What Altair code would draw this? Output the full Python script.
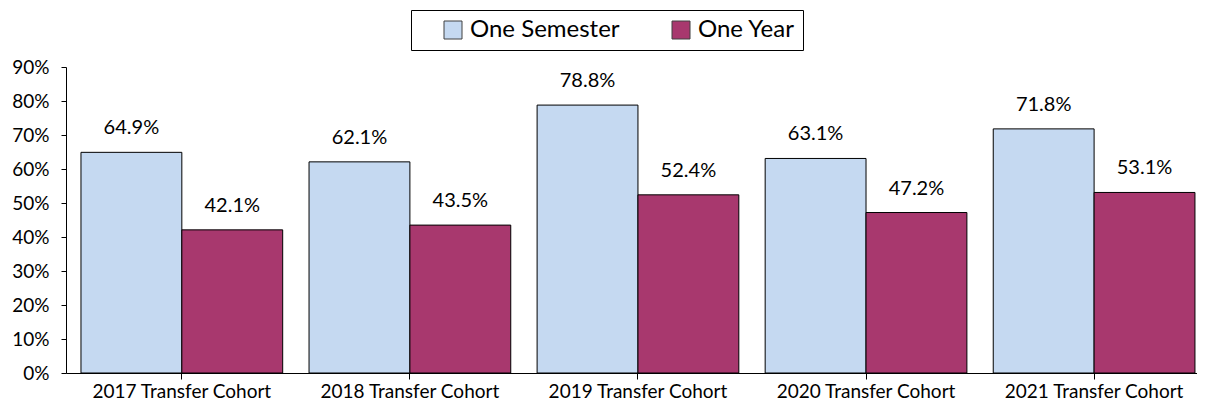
import altair as alt
import pandas as pd

cohorts = ["2017 Transfer Cohort", "2018 Transfer Cohort", "2019 Transfer Cohort",
           "2020 Transfer Cohort", "2021 Transfer Cohort"]
series = ["One Semester", "One Year"]
one_semester = [64.9, 62.1, 78.8, 63.1, 71.8]
one_year = [42.1, 43.5, 52.4, 47.2, 53.1]
y_ticks = [0, 10, 20, 30, 40, 50, 60, 70, 80, 90]
colors = ["#C5D9F1", "#A8386E"]

rows = []
for c, s, y in zip(cohorts, one_semester, one_year):
    rows.append({"cohort": c, "series": series[0], "value": s})
    rows.append({"cohort": c, "series": series[1], "value": y})
df = pd.DataFrame(rows)

FONT = "Lato"

x_enc = alt.X("cohort:N", sort=cohorts, title=None,
              scale=alt.Scale(paddingInner=0.1155, paddingOuter=0.0373, align=0.88),
              axis=alt.Axis(labelAngle=0, labelFontSize=19, labelColor="black",
                            domainColor="black", tickColor="black", tickSize=6,
                            labelPadding=3, labelFont=FONT))
xo_enc = alt.XOffset("series:N", sort=series, scale=alt.Scale(paddingInner=0, paddingOuter=0))
y_enc = alt.Y("value:Q", title=None,
              scale=alt.Scale(domain=[0, 90], nice=False),
              axis=alt.Axis(values=y_ticks, labelExpr="datum.value + '%'", grid=False,
                            labelOverlap=False, labelFontSize=19, labelColor="black",
                            domainColor="black", tickColor="black", tickSize=5,
                            labelPadding=12, labelFont=FONT))

base = alt.Chart(df)

bars = base.mark_bar(stroke="black", strokeWidth=1).encode(
    x=x_enc, xOffset=xo_enc, y=y_enc,
    color=alt.Color("series:N", sort=series,
                    scale=alt.Scale(domain=series, range=colors),
                    legend=alt.Legend(title=None, orient="none", legendX=345, legendY=-57,
                                      direction="horizontal", strokeColor="black",
                                      fillColor="white", padding=8, symbolType="square",
                                      symbolSize=324, symbolStrokeColor="#404040",
                                      symbolStrokeWidth=1, labelFontSize=24,
                                      labelFont=FONT, labelColor="black",
                                      columnPadding=27, labelOffset=5, symbolOffset=22)),
)

labels = base.transform_calculate(
    label="format(datum.value, '.1f') + '%'"
).mark_text(fontSize=20, font=FONT, color="black", baseline="middle", dy=-24).encode(
    x=x_enc, xOffset=xo_enc, y=y_enc, text="label:N",
)

chart = alt.layer(bars, labels).properties(
    width=1131, height=306,
    autosize=alt.AutoSizeParams(type="none"),
    padding={"left": 58, "top": 59, "right": 0, "bottom": 28},
).configure_view(stroke=None)

chart.save("out.html", embed_options={"renderer": "svg", "actions": False})
